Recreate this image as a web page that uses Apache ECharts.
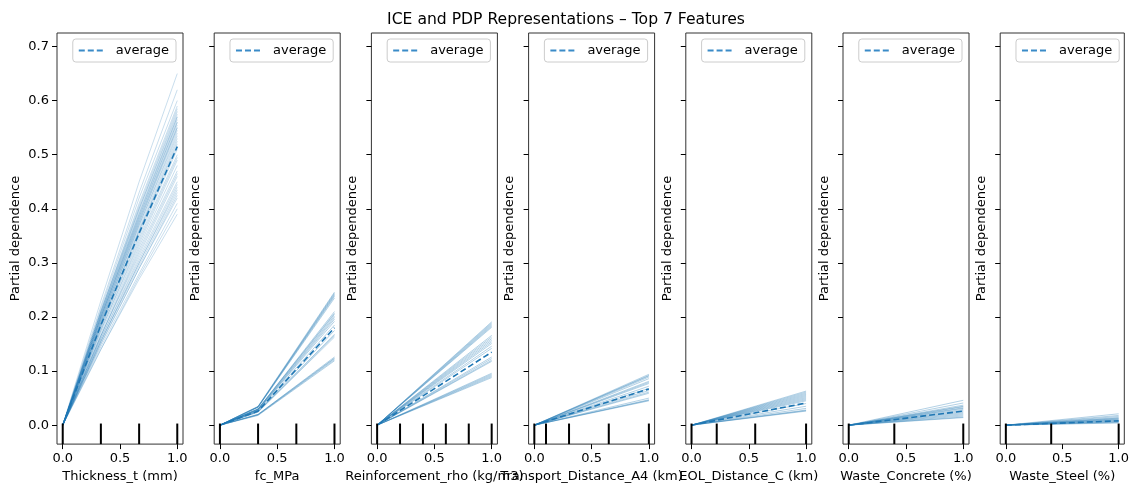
<!DOCTYPE html>
<html>
<head>
<meta charset="utf-8">
<script src="https://cdn.jsdelivr.net/npm/echarts@6/dist/echarts.min.js"></script>
<style>
  html, body { margin: 0; background: #fff; }
  #chart { width: 1132px; height: 488px; }
</style>
</head>
<body>
<div id="chart"></div>
<script>
// feature names (x axis titles)
var featureNames = ['Thickness_t (mm)', 'fc_MPa', 'Reinforcement_rho (kg/m3)', 'Transport_Distance_A4 (km)',
                    'EOL_Distance_C (km)', 'Waste_Concrete (%)', 'Waste_Steel (%)'];

// decile rug ticks at the bottom of each panel
var decileTicks = [
    [0, 0.333, 0.667, 1],
    [0, 0.333, 0.667, 1],
    [0, 0.2, 0.4, 0.6, 0.8, 1],
    [0, 0.102, 0.303, 0.65, 1],
    [0, 0.22, 0.556, 1],
    [0, 0.398, 1],
    [0, 0.402, 1]
];

// grid x positions where the ICE curves are evaluated
var iceX = [
    [0, 0.333, 0.667, 1],
    [0, 0.333, 1],
    [0, 1], [0, 1], [0, 1], [0, 1], [0, 1]
];

// ICE curves, one row per sample
var iceThickness = [
    [0, 0.23, 0.45, 0.65], [0, 0.22, 0.43, 0.62], [0, 0.215, 0.42, 0.60], [0, 0.21, 0.41, 0.59],
    [0, 0.21, 0.405, 0.585], [0, 0.21, 0.40, 0.58], [0, 0.205, 0.40, 0.575], [0, 0.205, 0.395, 0.57],
    [0, 0.205, 0.39, 0.57], [0, 0.20, 0.39, 0.565], [0, 0.20, 0.385, 0.56], [0, 0.20, 0.385, 0.56],
    [0, 0.20, 0.38, 0.555], [0, 0.195, 0.38, 0.55], [0, 0.195, 0.375, 0.55], [0, 0.195, 0.375, 0.545],
    [0, 0.19, 0.37, 0.54], [0, 0.19, 0.37, 0.535], [0, 0.19, 0.365, 0.53], [0, 0.185, 0.36, 0.525],
    [0, 0.185, 0.36, 0.52], [0, 0.185, 0.355, 0.515], [0, 0.18, 0.35, 0.51], [0, 0.18, 0.345, 0.50],
    [0, 0.175, 0.34, 0.495], [0, 0.175, 0.335, 0.49], [0, 0.17, 0.33, 0.48], [0, 0.165, 0.325, 0.47],
    [0, 0.165, 0.32, 0.465], [0, 0.165, 0.315, 0.46], [0, 0.16, 0.31, 0.45], [0, 0.16, 0.305, 0.445],
    [0, 0.155, 0.30, 0.44], [0, 0.155, 0.30, 0.435], [0, 0.155, 0.295, 0.43], [0, 0.15, 0.29, 0.425],
    [0, 0.15, 0.29, 0.42], [0, 0.145, 0.28, 0.41], [0, 0.14, 0.275, 0.40], [0, 0.14, 0.27, 0.39]
];
var iceFc = [
    [0, 0.035, 0.246], [0, 0.034, 0.244], [0, 0.034, 0.242], [0, 0.034, 0.240], [0, 0.033, 0.238],
    [0, 0.033, 0.235], [0, 0.030, 0.210], [0, 0.030, 0.207], [0, 0.030, 0.205], [0, 0.029, 0.202],
    [0, 0.029, 0.199], [0, 0.028, 0.196], [0, 0.028, 0.192], [0, 0.027, 0.185], [0, 0.026, 0.175],
    [0, 0.025, 0.168], [0, 0.025, 0.166], [0, 0.024, 0.163], [0, 0.020, 0.126], [0, 0.020, 0.124],
    [0, 0.019, 0.123], [0, 0.019, 0.121], [0, 0.018, 0.119]
];
var iceRho = [
    [0, 0.191], [0, 0.189], [0, 0.187], [0, 0.185], [0, 0.183], [0, 0.181], [0, 0.166], [0, 0.163],
    [0, 0.160], [0, 0.157], [0, 0.154], [0, 0.151], [0, 0.146], [0, 0.142], [0, 0.126], [0, 0.123],
    [0, 0.120], [0, 0.118], [0, 0.096], [0, 0.094], [0, 0.092], [0, 0.090], [0, 0.088]
];
var iceTransport = [
    [0, 0.094], [0, 0.092], [0, 0.091], [0, 0.089], [0, 0.086], [0, 0.081], [0, 0.079], [0, 0.077],
    [0, 0.072], [0, 0.068], [0, 0.064], [0, 0.061], [0, 0.059], [0, 0.050], [0, 0.047], [0, 0.046],
    [0, 0.045]
];
var iceEol = [
    [0, 0.063], [0, 0.061], [0, 0.059], [0, 0.057], [0, 0.055], [0, 0.053], [0, 0.051], [0, 0.049],
    [0, 0.047], [0, 0.045], [0, 0.040], [0, 0.035], [0, 0.031], [0, 0.028], [0, 0.027], [0, 0.026]
];
var iceConcrete = [
    [0, 0.046], [0, 0.041], [0, 0.037], [0, 0.035], [0, 0.034], [0, 0.032], [0, 0.031], [0, 0.029],
    [0, 0.027], [0, 0.025], [0, 0.023], [0, 0.021], [0, 0.019], [0, 0.017], [0, 0.015], [0, 0.014]
];
var iceSteel = [
    [0, 0.021], [0, 0.018], [0, 0.016], [0, 0.014], [0, 0.013], [0, 0.012], [0, 0.011], [0, 0.010],
    [0, 0.009], [0, 0.008], [0, 0.007], [0, 0.006], [0, 0.005], [0, 0.004]
];
var iceLines = [iceThickness, iceFc, iceRho, iceTransport, iceEol, iceConcrete, iceSteel];

// partial dependence (average of the ICE curves)
var averageY = [
    [0, 0.185, 0.355, 0.515],
    [0, 0.026, 0.180],
    [0, 0.135], [0, 0.067], [0, 0.041], [0, 0.026], [0, 0.008]
];

var yTicks = [0, 0.1, 0.2, 0.3, 0.4, 0.5, 0.6, 0.7];
var xTicks = [0, 0.5, 1];

var Y_MIN = -0.035, Y_MAX = 0.725;
var X_MIN = -0.05, X_MAX = 1.05;

var chart = echarts.init(document.getElementById('chart'));

var font = 'DejaVu Sans';
var grids = [], xAxes = [], yAxes = [], series = [], legends = [];
var panelW = 126, panelTop = 33, panelH = 416;

for (var i = 0; i < featureNames.length; i++) {
    var left = 57 + i * 157.2;
    grids.push({
        left: left, top: panelTop, width: panelW, height: panelH,
        show: true, borderColor: '#333', borderWidth: 1, backgroundColor: '#fff'
    });
    xAxes.push({
        gridIndex: i, type: 'value', min: X_MIN, max: X_MAX,
        name: featureNames[i], nameLocation: 'middle', nameGap: 24,
        nameTextStyle: { fontFamily: font, fontSize: 13, color: '#000' },
        axisLine: { show: false, onZero: false },
        splitLine: { show: false },
        axisTick: { show: true, length: 5, lineStyle: { color: '#000' }, customValues: xTicks },
        axisLabel: {
            show: true, margin: 8, fontFamily: font, fontSize: 13, color: '#000',
            customValues: xTicks,
            formatter: function (v) { return v.toFixed(1); }
        }
    });
    yAxes.push({
        gridIndex: i, type: 'value', min: Y_MIN, max: Y_MAX,
        name: 'Partial dependence', nameLocation: 'middle', nameGap: i === 0 ? 35 : 12,
        nameTextStyle: { fontFamily: font, fontSize: 13, color: '#000' },
        axisLine: { show: false, onZero: false },
        splitLine: { show: false },
        axisTick: { show: true, length: 5, lineStyle: { color: '#000' }, customValues: yTicks },
        axisLabel: {
            show: i === 0, margin: 8, fontFamily: font, fontSize: 13, color: '#000',
            customValues: yTicks,
            formatter: function (v) { return v.toFixed(1); }
        }
    });

    // ICE lines
    iceLines[i].forEach(function (row) {
        series.push({
            type: 'line', xAxisIndex: i, yAxisIndex: i, silent: true,
            symbol: 'none', z: 2,
            lineStyle: { color: i === 0 ? 'rgba(31,119,180,0.24)' : 'rgba(31,119,180,0.34)', width: 1 },
            data: row.map(function (y, k) { return [iceX[i][k], y]; })
        });
    });

    // average line
    series.push({
        name: 'average', type: 'line', xAxisIndex: i, yAxisIndex: i,
        symbol: 'none', z: 3,
        lineStyle: { color: '#1f77b4', width: 1.6, type: [6, 3] },
        itemStyle: { color: '#1f77b4' },
        data: averageY[i].map(function (y, k) { return [iceX[i][k], y]; })
    });

    // decile rug
    series.push({
        type: 'custom', xAxisIndex: i, yAxisIndex: i, silent: true, z: 4,
        data: decileTicks[i].map(function (v) { return [v, Y_MIN]; }),
        renderItem: function (params, api) {
            var p0 = api.coord([api.value(0), Y_MIN]);
            var p1 = api.coord([api.value(0), Y_MIN + 0.05 * (Y_MAX - Y_MIN)]);
            return {
                type: 'line',
                shape: { x1: p0[0], y1: p0[1], x2: p1[0], y2: p1[1] },
                style: { stroke: '#000', lineWidth: 2 }
            };
        }
    });

    legends.push({
        data: ['average'],
        right: 1132 - (left + panelW - 7), top: 39,
        orient: 'horizontal',
        icon: 'path://M0,0h6v2h-6z M9,0h6v2h-6z M18,0h6v2h-6z',
        itemWidth: 24, itemHeight: 2,
        itemStyle: { color: '#3a8bc8' },
        padding: [5, 7, 5, 6],
        borderColor: '#ccc', borderWidth: 1, borderRadius: 3,
        backgroundColor: 'rgba(255,255,255,0.8)',
        selectedMode: false,
        textStyle: { fontFamily: font, fontSize: 13, color: '#000', padding: [0, 0, 0, 8] }
    });
}

var option = {
    animation: false,
    backgroundColor: '#fff',
    textStyle: { fontFamily: font },
    title: {
        text: 'ICE and PDP Representations \u2013 Top 7 Features',
        left: 'center', top: 7,
        textStyle: { fontFamily: font, fontSize: 15.6, fontWeight: 'normal', color: '#000' }
    },
    legend: legends,
    grid: grids,
    xAxis: xAxes,
    yAxis: yAxes,
    series: series
};

chart.setOption(option);
</script>
</body>
</html>
